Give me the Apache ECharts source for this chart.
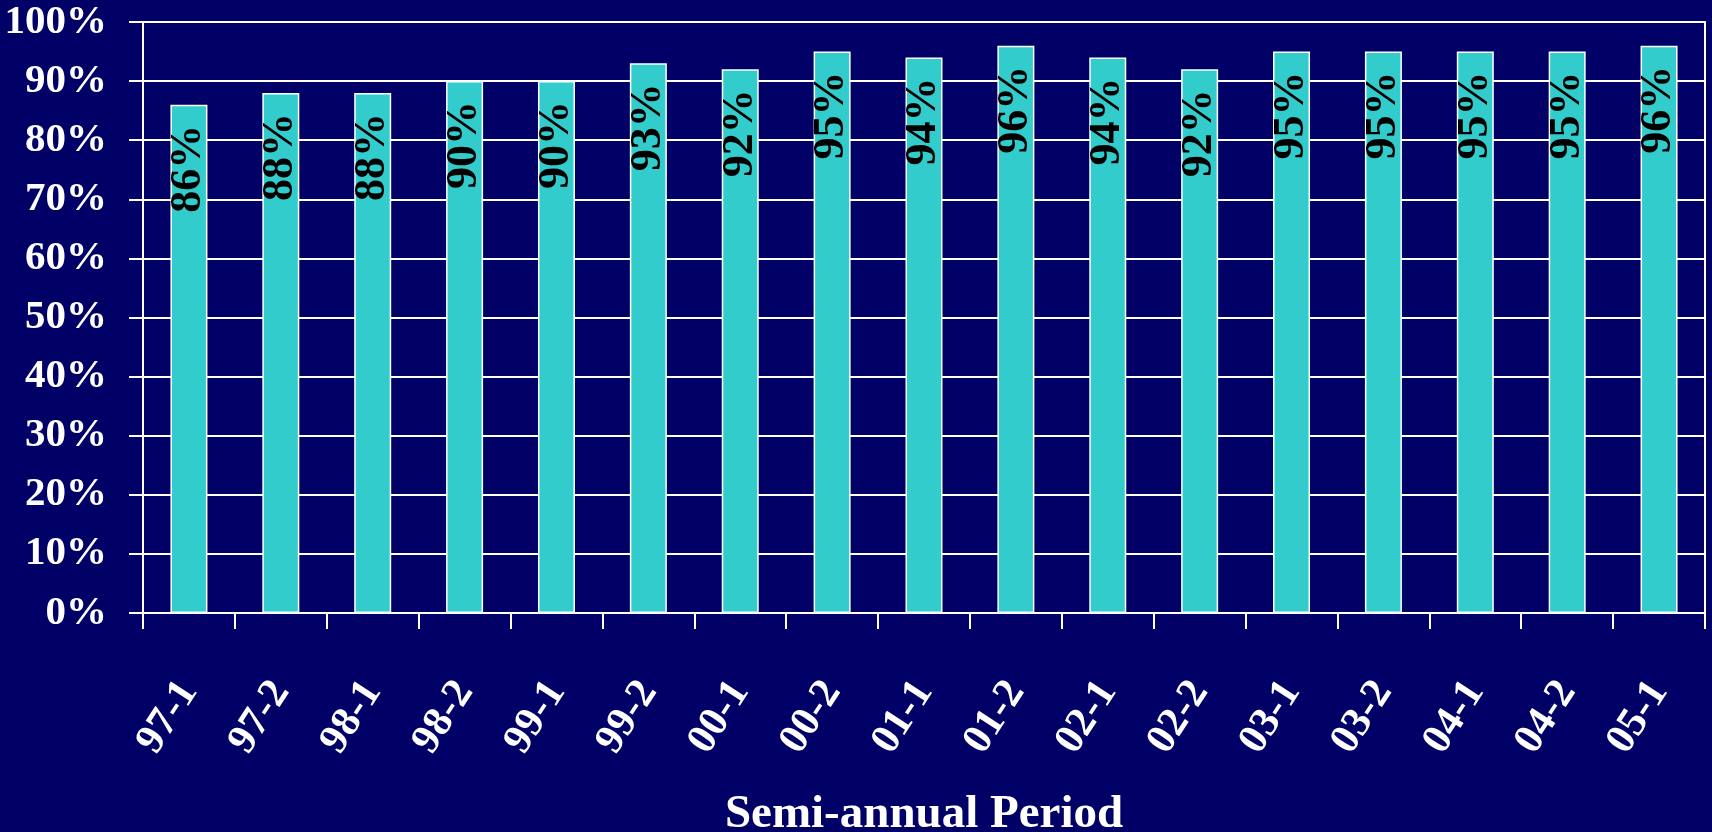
<!DOCTYPE html>
<html>
<head>
<meta charset="utf-8">
<script src="https://cdn.jsdelivr.net/npm/echarts@6/dist/echarts.min.js"></script>
<style>
  html, body { margin: 0; padding: 0; background: #000066; }
  #chart { width: 1712px; height: 832px; }
</style>
</head>
<body>
<div id="chart"></div>
<script>
// semi-annual periods and percentage values
const periods = ['97-1', '97-2', '98-1', '98-2', '99-1', '99-2', '00-1', '00-2', '01-1',
  '01-2', '02-1', '02-2', '03-1', '03-2', '04-1', '04-2', '05-1'];
const percents = [86, 88, 88, 90, 90, 93, 92, 95, 94, 96, 94, 92, 95, 95, 95, 95, 96];
const yTicks = [0, 10, 20, 30, 40, 50, 60, 70, 80, 90, 100];

const serif = '"Liberation Serif", "DejaVu Serif", serif';

let myChart = echarts.init(document.getElementById('chart'));
myChart.setOption({
  backgroundColor: '#000066',
  animation: false,
  grid: {
    left: 143, right: 7, top: 22, bottom: 219,
    outerBoundsMode: 'none',
    containLabel: false,
    show: true, borderColor: '#ffffff', borderWidth: 2
  },
  xAxis: {
    type: 'category',
    data: periods,
    name: 'Semi-annual Period',
    nameLocation: 'middle',
    nameGap: 178,
    nameTextStyle: { color: '#fff', fontFamily: serif, fontWeight: 'bold', fontSize: 47 },
    axisLine: { lineStyle: { color: '#fff', width: 2 } },
    axisTick: { show: true, length: 16, lineStyle: { color: '#fff', width: 2 } },
    axisLabel: {
      color: '#fff', fontFamily: serif, fontWeight: 'bold', fontSize: 42,
      rotate: 57, margin: 72, interval: 0
    }
  },
  yAxis: {
    type: 'value',
    min: yTicks[0],
    max: yTicks[yTicks.length - 1],
    interval: 10,
    axisLine: { show: true, lineStyle: { color: '#fff', width: 2 } },
    axisTick: { show: true, length: 14, lineStyle: { color: '#fff', width: 2 } },
    splitLine: { lineStyle: { color: '#fff', width: 2 } },
    axisLabel: {
      color: '#fff', fontFamily: serif, fontWeight: 'bold', fontSize: 41,
      margin: 36, formatter: '{value}%'
    }
  },
  series: [{
    type: 'bar',
    data: percents,
    barWidth: 37,
    itemStyle: { color: '#33cccc', borderColor: '#ffffff', borderWidth: 1.5 },
    label: {
      show: true,
      position: 'insideTop',
      rotate: 90,
      align: 'right',
      verticalAlign: 'middle',
      distance: 20,
      formatter: '{c}%',
      color: '#000',
      fontFamily: serif,
      fontWeight: 'bold',
      fontSize: 44
    }
  }]
});
</script>
</body>
</html>
